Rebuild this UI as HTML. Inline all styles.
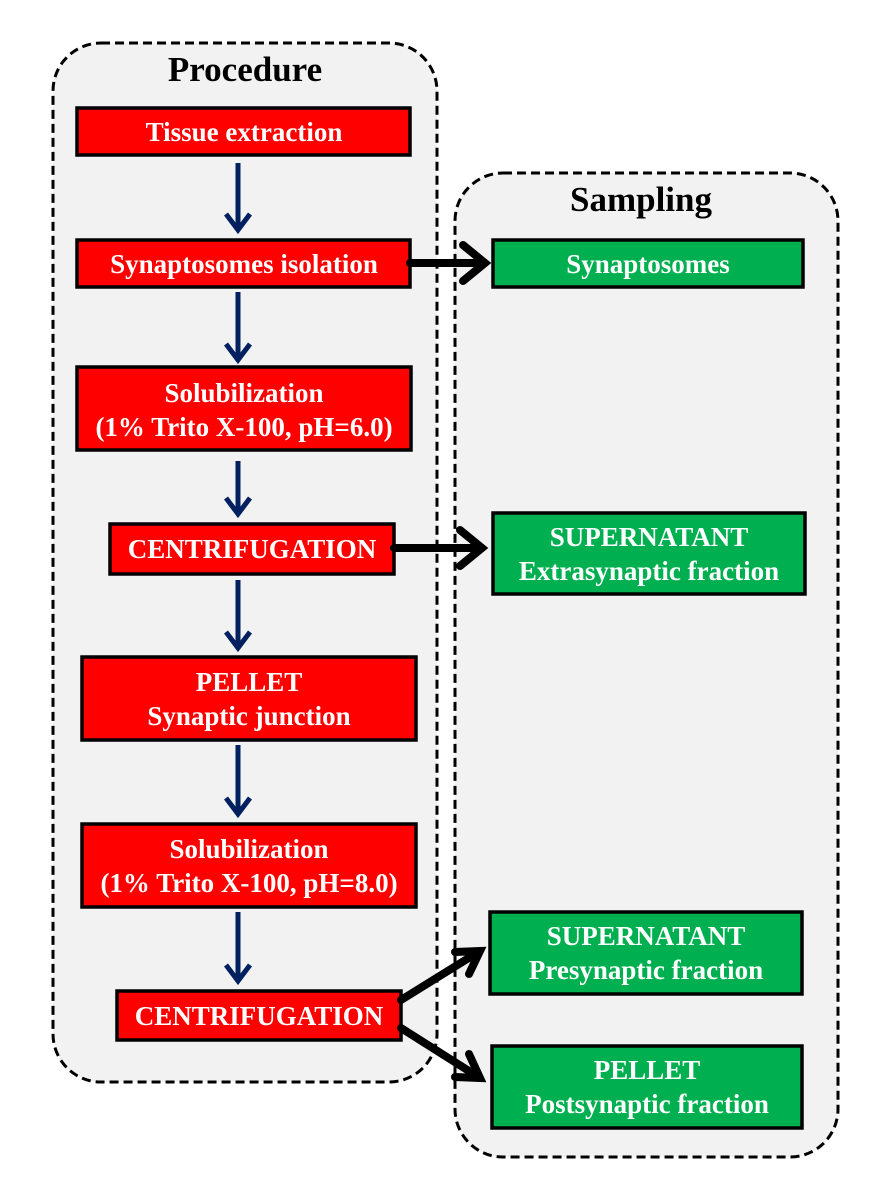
<!DOCTYPE html>
<html><head><meta charset="utf-8"><style>
html,body{margin:0;padding:0;background:#fff;}
svg{display:block;}
text{font-family:"Liberation Serif",serif;font-weight:bold;}
.w{fill:#fff;font-size:27px;}
</style></head><body>
<svg width="892" height="1200" viewBox="0 0 892 1200" xmlns="http://www.w3.org/2000/svg">
<rect x="53" y="43" width="384" height="1039" rx="48" fill="#f2f2f2" stroke="#000" stroke-width="3" stroke-dasharray="9,5"/>
<rect x="455" y="173" width="383" height="984" rx="48" fill="#f2f2f2" stroke="#000" stroke-width="3" stroke-dasharray="9,5"/>
<text x="245" y="81" text-anchor="middle" font-size="35" fill="#000">Procedure</text>
<text x="641" y="211" text-anchor="middle" font-size="35" fill="#000">Sampling</text>
<g stroke="#000" stroke-width="3.5">
<rect x="77" y="108" width="333" height="47" fill="#ff0000"/>
<rect x="77" y="240" width="333" height="47" fill="#ff0000"/>
<rect x="77" y="367" width="334" height="83" fill="#ff0000"/>
<rect x="110" y="524" width="284" height="50" fill="#ff0000"/>
<rect x="82" y="657" width="334" height="83" fill="#ff0000"/>
<rect x="82" y="824" width="334" height="83" fill="#ff0000"/>
<rect x="117" y="991" width="284" height="49" fill="#ff0000"/>
<rect x="493" y="240" width="310" height="47" fill="#00b050"/>
<rect x="493" y="513" width="312" height="81" fill="#00b050"/>
<rect x="490" y="912" width="312" height="82" fill="#00b050"/>
<rect x="492" y="1046" width="310" height="82" fill="#00b050"/>
</g>
<g text-anchor="middle">
<text class="w" x="244" y="141">Tissue extraction</text>
<text class="w" x="244" y="273">Synaptosomes isolation</text>
<text class="w" x="244" y="402">Solubilization</text>
<text class="w" x="244" y="436">(1% Trito X-100, pH=6.0)</text>
<text class="w" x="252" y="558">CENTRIFUGATION</text>
<text class="w" x="249" y="691">PELLET</text>
<text class="w" x="249" y="725">Synaptic junction</text>
<text class="w" x="249" y="858">Solubilization</text>
<text class="w" x="249" y="892">(1% Trito X-100, pH=8.0)</text>
<text class="w" x="259" y="1025">CENTRIFUGATION</text>
<text class="w" x="648" y="273">Synaptosomes</text>
<text class="w" x="649" y="546">SUPERNATANT</text>
<text class="w" x="649" y="580">Extrasynaptic fraction</text>
<text class="w" x="646" y="945">SUPERNATANT</text>
<text class="w" x="646" y="979">Presynaptic fraction</text>
<text class="w" x="647" y="1079">PELLET</text>
<text class="w" x="647" y="1113">Postsynaptic  fraction</text>
</g>
<g stroke="#002060" stroke-width="5" fill="none">
<path d="M238 163V228M226 214L238 230L250 214"/>
<path d="M238 292V358M226 344L238 360L250 344"/>
<path d="M238 461V512M226 498L238 514L250 498"/>
<path d="M238 580V646M226 632L238 648L250 632"/>
<path d="M238 745V812M226 798L238 814L250 798"/>
<path d="M238 912V979M226 965L238 981L250 965"/>
</g>
<g stroke="#000" stroke-width="8" fill="none" stroke-linecap="round">
<path d="M410 263H485M463 245L485 263L463 281"/>
<path d="M394 548H482M460 530L482 548L460 566"/>
<path d="M401 1000L480 951M455 952L480 951L469 974"/>
<path d="M401 1028L480 1078M469 1054L480 1078L455 1077"/>
</g>
</svg>
</body></html>
